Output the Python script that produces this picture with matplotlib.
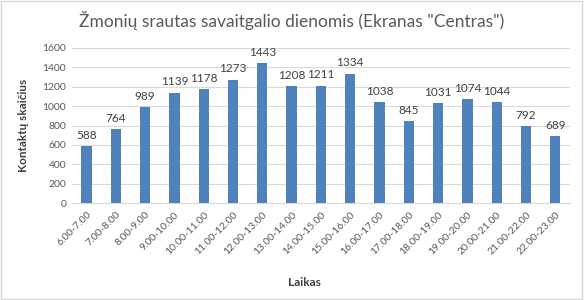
import numpy as np
import matplotlib.pyplot as plt
from matplotlib.patches import Rectangle

hours = ["6.00-7.00", "7.00-8.00", "8.00-9.00", "9.00-10.00", "10.00-11.00",
         "11.00-12.00", "12.00-13.00", "13.00-14.00", "14.00-15.00", "15.00-16.00",
         "16.00-17.00", "17.00-18.00", "18.00-19.00", "19.00-20.00", "20.00-21.00",
         "21.00-22.00", "22.00-23.00"]
contacts = [588, 764, 989, 1139, 1178, 1273, 1443, 1208, 1211, 1334,
            1038, 845, 1031, 1074, 1044, 792, 689]
yticks = [0, 200, 400, 600, 800, 1000, 1200, 1400, 1600]

plt.rcParams['font.family'] = ['Lato', 'DejaVu Sans']
txt = '#595959'


def main():
    fig = plt.figure(figsize=(5.84, 3.0), dpi=100)
    ax = fig.add_axes([0.123, 0.323, 0.853, 0.517])

    x = np.arange(len(hours))
    bars = ax.bar(x, contacts, width=0.35, color='#4F81BD', zorder=3)
    for b, v in zip(bars, contacts):
        ax.text(b.get_x() + b.get_width() / 2, v + 55, str(v),
                ha='center', va='bottom', fontsize=8.5, color='#404040')

    ax.set_xlim(-0.5, len(hours) - 0.5)
    ax.set_ylim(0, 1600)
    ax.set_yticks(yticks)
    ax.set_xticks(x)
    ax.set_xticklabels(hours, rotation=45, ha='right', rotation_mode='anchor')
    ax.tick_params(axis='both', length=0, labelsize=7.5, colors=txt, pad=4)
    ax.tick_params(axis='x', pad=5)
    ax.grid(axis='y', color='#d9d9d9', linewidth=0.8, zorder=0)
    for s in ['top', 'right', 'left']:
        ax.spines[s].set_visible(False)
    ax.spines['bottom'].set_color('#d9d9d9')

    ax.set_ylabel('Kontaktų skaičius', fontsize=8.5, fontweight='bold', color='#404040', labelpad=10)
    fig.text(0.522, 0.057, 'Laikas', fontsize=8.5, fontweight='bold', color='#404040',
             ha='center', va='center')
    fig.text(0.5, 0.93, 'Žmonių srautas savaitgalio dienomis (Ekranas "Centras")',
             fontsize=12.5, color=txt, ha='center', va='center')

    fig.patches.append(Rectangle((0.002, 0.004), 0.995, 0.992, transform=fig.transFigure,
                                 fill=False, edgecolor='#d9d9d9', linewidth=1))
    fig.savefig('out.png', dpi=100)


if __name__ == "__main__":
    main()
